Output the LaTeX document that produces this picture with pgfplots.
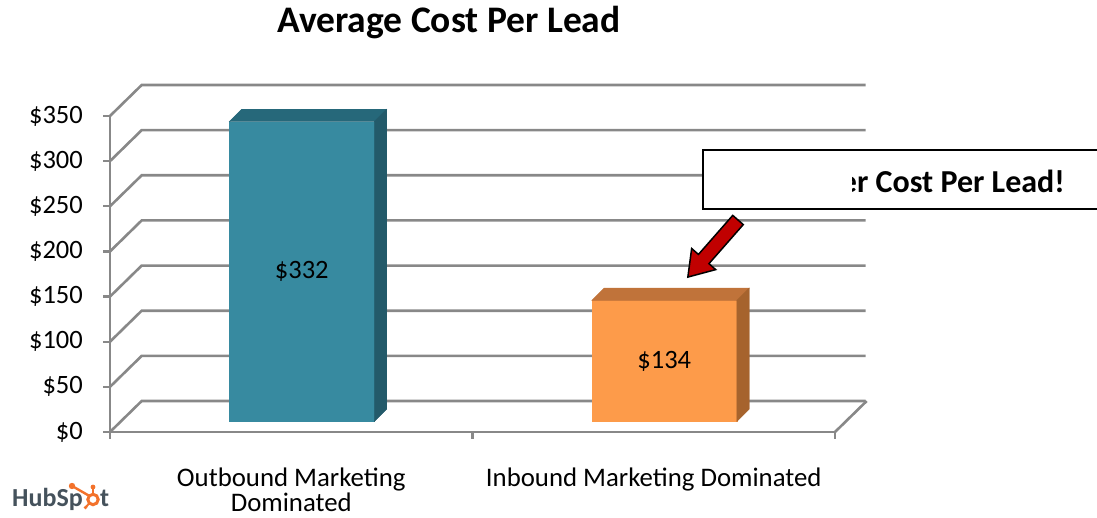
\documentclass[border=0pt]{standalone}
\usepackage{pgfplots}
\pgfplotsset{compat=1.18}
\usepackage{pgfplotstable}
\usepackage{fontspec}
\setmainfont{Carlito}
\definecolor{gridgray}{HTML}{888888}
\definecolor{blueF}{HTML}{378AA0}
\definecolor{blueT}{HTML}{26687A}
\definecolor{blueS}{HTML}{235A6A}
\definecolor{orF}{HTML}{FD9B4A}
\definecolor{orT}{HTML}{C0733A}
\definecolor{orS}{HTML}{A6632D}
\definecolor{arrowred}{HTML}{C00000}
\definecolor{hubgray}{HTML}{45525C}
\definecolor{huborange}{HTML}{F3722B}
\pgfdeclareplotmark{nothing}{}
\pgfplotstableread{
x v
0.5 332
}\outbound
\pgfplotstableread{
x v
1.5 134
}\inbound
\pgfplotsset{
  bar3d/.style n args={3}{
    scatter, only marks, mark=nothing,
    point meta=explicit symbolic,
    scatter/@pre marker code/.code={%
      \edef\val{\pgfplotspointmeta}%
      \pgfmathsetmacro\H{\val*0.902857}%
      \fill[#1] (-62pt,{(10.5-\H)*1pt}) rectangle (83pt,10.5pt);
      \fill[#2] (-62pt,10.5pt) -- (83pt,10.5pt) -- (95.5pt,23pt) -- (-49.5pt,23pt) -- cycle;
      \fill[#3] (83pt,10.5pt) -- (95.5pt,23pt) -- (95.5pt,{(23-\H)*1pt}) -- (83pt,{(10.5-\H)*1pt}) -- cycle;
      \node[font=\fontsize{26.5}{30}\selectfont, inner sep=0pt, text=black] at (10.5pt,{(10.5-\H/2)*1pt}) {\$\val};
    },
    scatter/@post marker code/.code={},
  }
}
\begin{document}
\begin{tikzpicture}[x=1pt,y=1pt]
\useasboundingbox (0,0) rectangle (1097,518);
\begin{axis}[
  at={(110pt,86pt)}, anchor=south west, scale only axis,
  width=725pt, height=316pt,
  xmin=0, xmax=2, ymin=0, ymax=350, clip=false,
  axis x line*=bottom, axis y line*=left,
  axis line style={draw=gridgray, line width=2.6pt},
  xtick={0,1,2}, xticklabels={},
  ytick={0,50,...,350},
  yticklabels={\$0,\$50,\$100,\$150,\$200,\$250,\$300,\$350},
  tick align=outside, major tick length=7pt,
  tick style={draw=gridgray, line width=2.4pt},
  yticklabel style={anchor=east, inner sep=0pt, xshift=-20pt},
  tick label style={font=\fontsize{26.5}{30}\selectfont},
]
\pgfplotsinvokeforeach{0,50,...,350}{%
  \draw[gridgray, line width=2.6pt] (axis cs:0,#1) -- ++(31.7pt,31pt) -- ++(724pt,0pt);
}
\draw[gridgray, line width=2.6pt] (axis cs:2,0) -- ++(31.7pt,31pt);
\addplot[bar3d={blueF}{blueT}{blueS}] table[x=x,y=v,meta=v]{\outbound};
\addplot[bar3d={orF}{orT}{orS}] table[x=x,y=v,meta=v]{\inbound};
\node[anchor=base, font=\fontsize{26.8}{30}\selectfont, inner sep=0pt] at (axis cs:0.5,0) [yshift=-55pt] {Outbound Marketing};
\node[anchor=base, font=\fontsize{26.8}{30}\selectfont, inner sep=0pt] at (axis cs:0.5,0) [yshift=-80pt] {Dominated};
\node[anchor=base, font=\fontsize{26.8}{30}\selectfont, inner sep=0pt] at (axis cs:1.5,0) [yshift=-55pt] {Inbound Marketing Dominated};
\end{axis}
\node[anchor=base, font=\bfseries\fontsize{37.5}{42}\selectfont, inner sep=0pt] at (449,485) {Average Cost Per Lead};
\draw[fill=white, line width=2pt] (703,309) rectangle (1120,368);
\node[anchor=base east, font=\bfseries\fontsize{32}{36}\selectfont, inner sep=0pt] at (1065,325) {Lower Cost Per Lead!};
\fill[white] (705,311) rectangle (852,366);
\begin{scope}[shift={(738,298)}, rotate=228.7]
\draw[fill=arrowred, line width=1.5pt, line join=miter] (0,-7) -- (52,-7) -- (52,-16) -- (76,0) -- (52,16) -- (52,7) -- (0,7) -- cycle;
\end{scope}
% HubSpot logo
\node[anchor=base west, inner sep=0pt, font=\bfseries\fontsize{26}{30}\selectfont, text=hubgray] at (12,11) {HubSp};
\node[anchor=base west, inner sep=0pt, font=\bfseries\fontsize{26}{30}\selectfont, text=hubgray] at (100,11) {t};
\draw[huborange, line width=3pt] (93,18.5) circle (5.2);
\draw[huborange, line width=2.4pt] (89.5,22) -- (73,31.5);
\fill[huborange] (72,32) circle (3.2);
\draw[huborange, line width=2.6pt] (93,23.5) -- (93,30);
\fill[huborange] (93,31) circle (2.4);
\draw[huborange, line width=2pt] (89.5,15) -- (86,11);
\fill[huborange] (85.5,10.5) circle (1.8);
\end{tikzpicture}
\end{document}
